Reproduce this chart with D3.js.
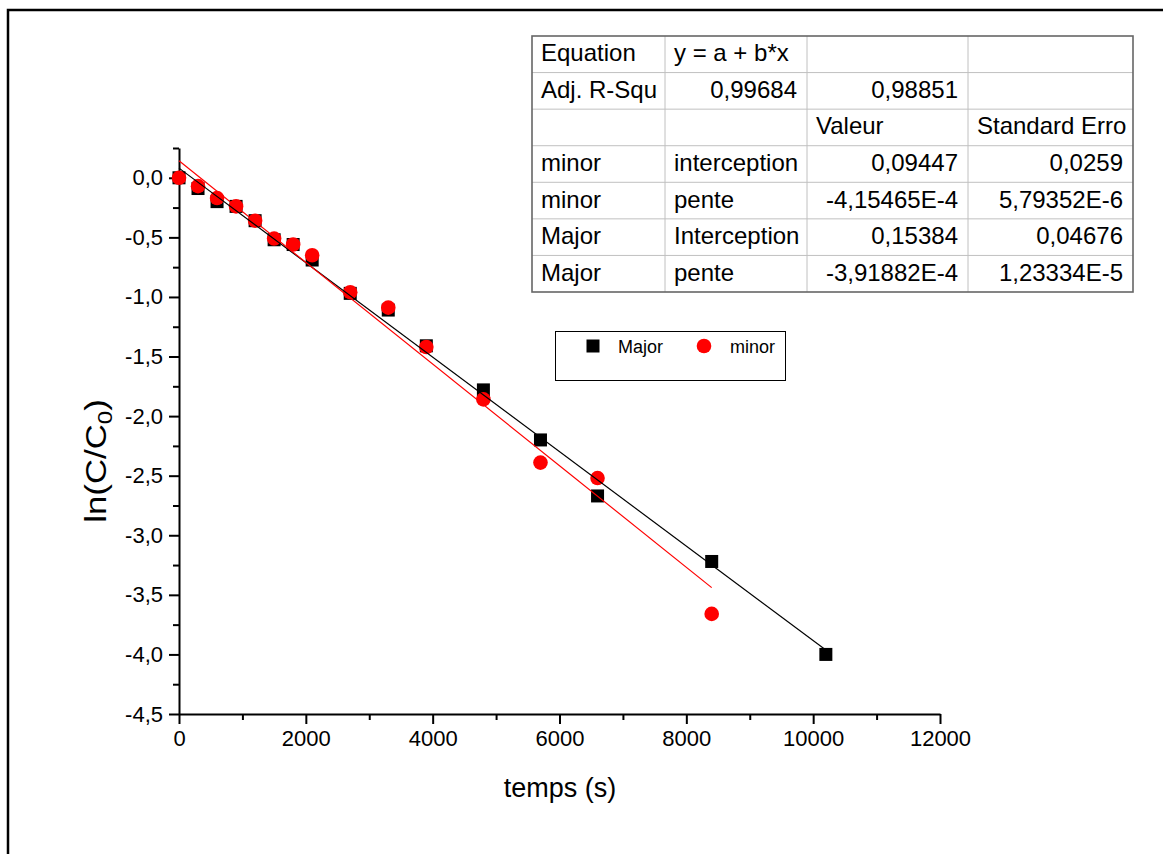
<!DOCTYPE html>
<html>
<head>
<meta charset="utf-8">
<script src="https://cdn.jsdelivr.net/npm/d3@7"></script>
<style>
  html, body { margin: 0; padding: 0; background: #fff; }
  svg { display: block; font-family: "Liberation Sans", Arial, sans-serif; }
</style>
</head>
<body>
<svg id="chart" width="1163" height="854"></svg>
<script>
// ---------------- data ----------------
const majorTime = [0, 300, 600, 900, 1200, 1500, 1800, 2100, 2700, 3300, 3900, 4800, 5700, 6600, 8400, 10200];
const majorLn   = [0, -0.09, -0.20, -0.24, -0.36, -0.52, -0.56, -0.69, -0.97, -1.11, -1.41, -1.78, -2.20, -2.67, -3.22, -4.00];
const minorTime = [0, 300, 600, 900, 1200, 1500, 1800, 2100, 2700, 3300, 3900, 4800, 5700, 6600, 8400];
const minorLn   = [0, -0.07, -0.17, -0.24, -0.36, -0.51, -0.56, -0.65, -0.96, -1.09, -1.42, -1.86, -2.39, -2.52, -3.66];

// fitted lines as drawn in the picture
const fitNames      = ["Major", "minor"];
const fitIntercepts = [0.081, 0.143];
const fitSlopes     = [-3.965e-4, -4.265e-4];
const fitXEnd       = [10200, 8400];

const xTicks = [0, 2000, 4000, 6000, 8000, 10000, 12000];
const xMinorTicks = [1000, 3000, 5000, 7000, 9000, 11000];
const yTicks = [0, -0.5, -1, -1.5, -2, -2.5, -3, -3.5, -4, -4.5];
const yMinorTicks = [0.25, -0.25, -0.75, -1.25, -1.75, -2.25, -2.75, -3.25, -3.75, -4.25];

const legendLabels = ["Major", "minor"];

const tableRows = [
  ["Equation", "y = a + b*x", "", ""],
  ["Adj. R-Squ", "0,99684", "0,98851", ""],
  ["", "", "Valeur", "Standard Erro"],
  ["minor", "interception", "0,09447", "0,0259"],
  ["minor", "pente", "-4,15465E-4", "5,79352E-6"],
  ["Major", "Interception", "0,15384", "0,04676"],
  ["Major", "pente", "-3,91882E-4", "1,23334E-5"]
];

// ---------------- drawing ----------------
const svg = d3.select("#chart");
const colors = { Major: "#000000", minor: "#ff0000" };

// outer frame (only top and left visible)
svg.append("path")
  .attr("d", "M8,854 V10 H1163")
  .attr("fill", "none").attr("stroke", "#000").attr("stroke-width", 2.5);

const x = d3.scaleLinear().domain([0, 12000]).range([179, 940]);
const y = d3.scaleLinear().domain([-4.5, 0.25]).range([714, 148]);

const fmtY = v => d3.format(".1f")(v).replace(".", ",").replace("−", "-");

// minor ticks
const yMinorAxis = d3.axisLeft(y).tickValues(yMinorTicks).tickSize(6).tickFormat("").tickSizeOuter(0);
svg.append("g").attr("transform", `translate(${x(0)},0)`).call(yMinorAxis)
  .call(g => g.select(".domain").remove())
  .call(g => g.selectAll("line").attr("stroke-width", 2));
const xMinorAxis = d3.axisBottom(x).tickValues(xMinorTicks).tickSize(6).tickFormat("").tickSizeOuter(0);
svg.append("g").attr("transform", `translate(0,${y(-4.5)})`).call(xMinorAxis)
  .call(g => g.select(".domain").remove())
  .call(g => g.selectAll("line").attr("stroke-width", 2));

// major axes
const yAxis = d3.axisLeft(y).tickValues(yTicks).tickSize(10).tickSizeOuter(0).tickPadding(6).tickFormat(fmtY);
const gy = svg.append("g").attr("transform", `translate(${x(0)},0)`).call(yAxis);
gy.select(".domain").attr("stroke-width", 2);
gy.selectAll("line").attr("stroke-width", 2);
gy.selectAll("text").attr("font-size", 22).attr("font-family", "Liberation Sans, Arial, sans-serif").attr("fill", "#000");

const xAxis = d3.axisBottom(x).tickValues(xTicks).tickSize(10).tickSizeOuter(0).tickPadding(6).tickFormat(d3.format("d"));
const gx = svg.append("g").attr("transform", `translate(0,${y(-4.5)})`).call(xAxis);
gx.select(".domain").attr("stroke-width", 2);
gx.selectAll("line").attr("stroke-width", 2);
gx.selectAll("text").attr("font-size", 22).attr("font-family", "Liberation Sans, Arial, sans-serif").attr("fill", "#000");

// axis titles
svg.append("text").attr("x", 560).attr("y", 797).attr("text-anchor", "middle")
  .attr("font-size", 27).text("temps (s)");
const yl = svg.append("text").attr("transform", "translate(106,461) rotate(-90) scale(1.2,1)")
  .attr("text-anchor", "middle").attr("font-size", 29);
yl.append("tspan").text("ln(C/C");
yl.append("tspan").attr("font-size", 20).attr("dy", 6).text("0");
yl.append("tspan").attr("dy", -6).text(")");

// markers
const sq = 13;
svg.append("g").selectAll("rect").data(majorTime.map((t, i) => [t, majorLn[i]])).join("rect")
  .attr("x", d => x(d[0]) - sq / 2).attr("y", d => y(d[1]) - sq / 2)
  .attr("width", sq).attr("height", sq).attr("fill", colors.Major);
svg.append("g").selectAll("circle").data(minorTime.map((t, i) => [t, minorLn[i]])).join("circle")
  .attr("cx", d => x(d[0])).attr("cy", d => y(d[1])).attr("r", 7.3).attr("fill", colors.minor);

// fit lines
fitNames.forEach((n, i) => {
  const pts = [0, fitXEnd[i]].map(t => [x(t), y(fitIntercepts[i] + fitSlopes[i] * t)]);
  svg.append("path").attr("d", d3.line()(pts)).attr("fill", "none")
    .attr("stroke", colors[n]).attr("stroke-width", 1.2);
});

// legend
const lg = svg.append("g");
lg.append("rect").attr("x", 555.5).attr("y", 331.5).attr("width", 230).attr("height", 49)
  .attr("fill", "#fff").attr("stroke", "#000").attr("stroke-width", 1);
lg.append("rect").attr("x", 593 - 6.5).attr("y", 346 - 6.5).attr("width", 13).attr("height", 13).attr("fill", colors.Major);
lg.append("text").attr("x", 618).attr("y", 352.5).attr("font-size", 18).text(legendLabels[0]);
lg.append("circle").attr("cx", 704).attr("cy", 346).attr("r", 7.3).attr("fill", colors.minor);
lg.append("text").attr("x", 730).attr("y", 352.5).attr("font-size", 18).text(legendLabels[1]);

// parameter table
const colEdges = [532, 665, 807, 968, 1133];
const tTop = 36, tBottom = 292;
const rowH = (tBottom - tTop) / tableRows.length;
const tg = svg.append("g");
tg.append("rect").attr("x", colEdges[0]).attr("y", tTop).attr("width", colEdges[4] - colEdges[0])
  .attr("height", tBottom - tTop).attr("fill", "#fff");
for (let r = 1; r < tableRows.length; r++) {
  tg.append("line").attr("x1", colEdges[0]).attr("x2", colEdges[4])
    .attr("y1", tTop + r * rowH).attr("y2", tTop + r * rowH)
    .attr("stroke", "#c0c0c0").attr("stroke-width", 1);
}
for (let c = 1; c < colEdges.length - 1; c++) {
  tg.append("line").attr("x1", colEdges[c]).attr("x2", colEdges[c])
    .attr("y1", tTop).attr("y2", tBottom).attr("stroke", "#c0c0c0").attr("stroke-width", 1);
}
tg.append("rect").attr("x", colEdges[0]).attr("y", tTop).attr("width", colEdges[4] - colEdges[0])
  .attr("height", tBottom - tTop).attr("fill", "none").attr("stroke", "#666").attr("stroke-width", 1.6);

const isNum = s => /^-?[0-9]/.test(s);
tableRows.forEach((row, r) => {
  row.forEach((cell, c) => {
    if (!cell) return;
    const right = isNum(cell);
    tg.append("text")
      .attr("x", right ? colEdges[c + 1] - 10 : colEdges[c] + 9)
      .attr("y", tTop + r * rowH + rowH / 2 + 7)
      .attr("text-anchor", right ? "end" : "start")
      .attr("font-size", 24).text(cell);
  });
});
</script>
</body>
</html>
